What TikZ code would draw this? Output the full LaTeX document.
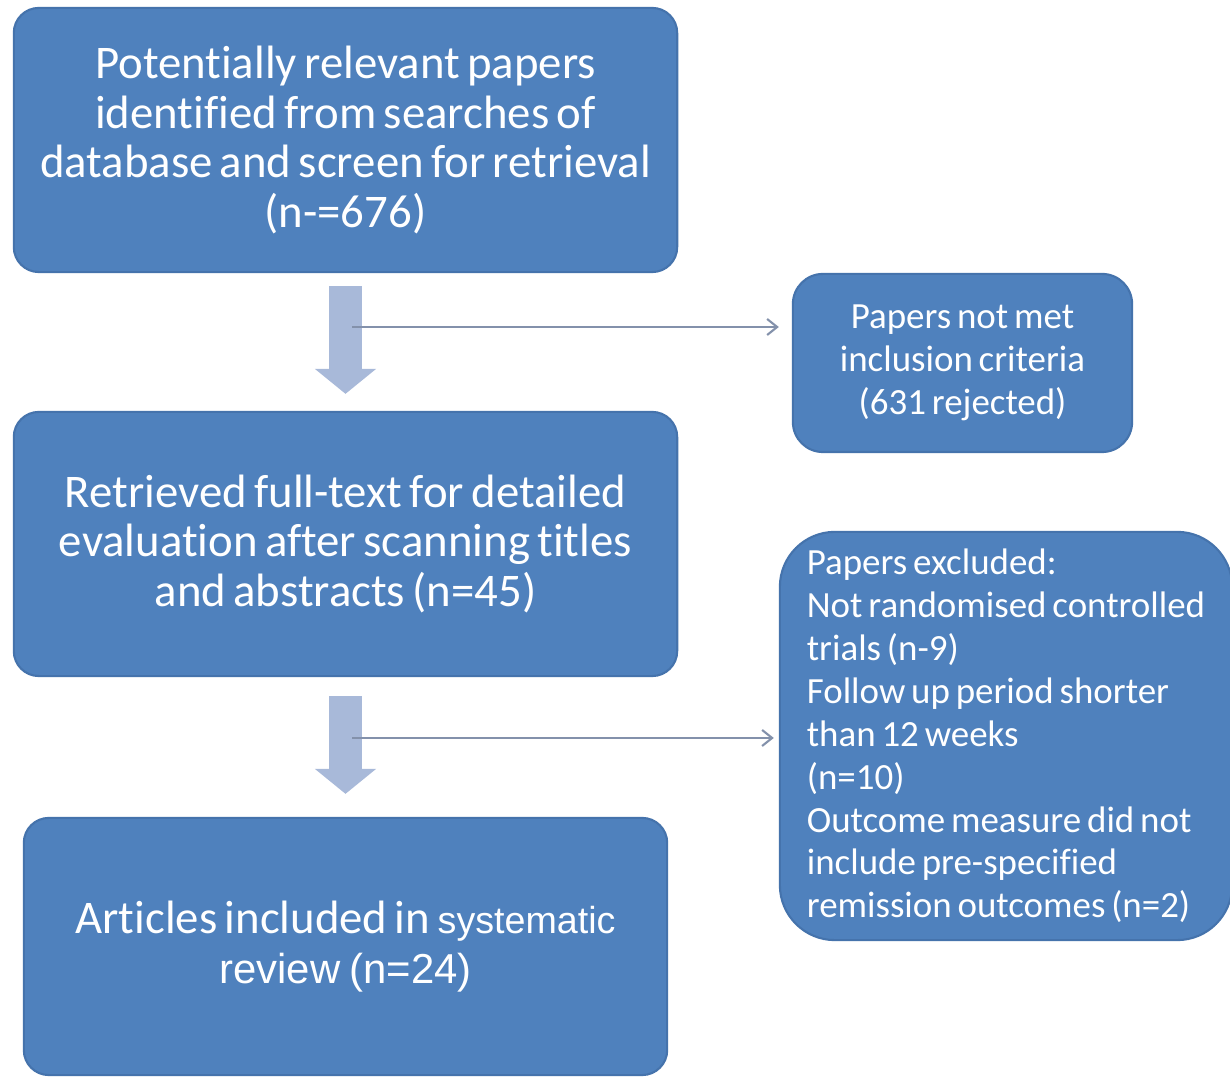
\documentclass[tikz,border=0pt]{standalone}
\usepackage{fontspec}
\setmainfont{Carlito}[WordSpace=0.7, Ligatures=NoCommon]
\newfontfamily\arialfont{Liberation Sans}[WordSpace=0.8]
\usetikzlibrary{arrows.meta}
\definecolor{boxblue}{HTML}{4F81BD}
\definecolor{boxedge}{HTML}{4573AC}
\definecolor{fatblue}{HTML}{A8B9D9}
\definecolor{thingrey}{HTML}{8391AB}
\tikzset{bluebox/.style={draw=boxedge, line width=0.6pt, fill=boxblue, rounded corners=0.25cm,
    text=white, align=center, inner sep=0pt, font=\fontsize{13.3}{14.2}\selectfont}}
\tikzset{smallbox/.style={bluebox, font=\fontsize{10.5}{12.2}\selectfont}}
\tikzset{fatdown/.style={fatblue, line width=0.32cm, -{Triangle[length=0.25cm,width=0.6cm]}}}
\tikzset{thinright/.style={thingrey, line width=0.6pt, -{Straight Barb[length=0.1cm,width=0.16cm]}}}

\begin{document}
\begin{tikzpicture}[x=0.01cm, y=-0.01cm]

    \clip (0,0) rectangle (1230,1077);
    \fill[white] (0,0) rectangle (1230,1077);

    \node[bluebox, minimum width=6.63cm, minimum height=2.64cm] (search) at (345.5,140)
        {Potentially relevant papers\\identified from searches of\\database and screen for retrieval\\(n-=676)};
    \node[smallbox, minimum width=3.39cm, minimum height=1.78cm, rounded corners=0.3cm] (notmet) at (962.5,363)
        {Papers not met\\inclusion criteria\\(631 rejected)};
    \node[bluebox, minimum width=6.63cm, minimum height=2.64cm] (fulltext) at (345.5,544)
        {Retrieved full-text for detailed\\evaluation after scanning titles\\and abstracts (n=45)};
    \node[smallbox, minimum width=4.52cm, minimum height=4.08cm, rounded corners=0.55cm, align=left] (excluded) at (1006,736)
        {Papers excluded:\\Not randomised controlled\\trials (n-9)\\Follow up period shorter\\than 12 weeks\\(n=10)\\Outcome measure did not\\include pre-specified\\remission outcomes (n=2)};
    \node[bluebox, minimum width=6.43cm, minimum height=2.57cm] (included) at (345.5,946.5)
        {Articles included in {\arialfont\fontsize{10.7}{14.2}\selectfont systematic}\\{\arialfont\fontsize{11.9}{14.2}\selectfont review (n=24)}};

    \coordinate (split1) at (352,327);
    \coordinate (split2) at (352,738);

    \draw[fatdown, shorten <=0.13cm, shorten >=0.17cm] (search.south) -- (fulltext.north);
    \draw[fatdown, shorten <=0.19cm, shorten >=0.23cm] (fulltext.south) -- (included.north);
    \draw[thinright, shorten >=0.13cm] (split1) -- (split1 -| notmet.west);
    \draw[thinright, shorten >=0.05cm] (split2) -- (split2 -| excluded.west);

\end{tikzpicture}
\end{document}
